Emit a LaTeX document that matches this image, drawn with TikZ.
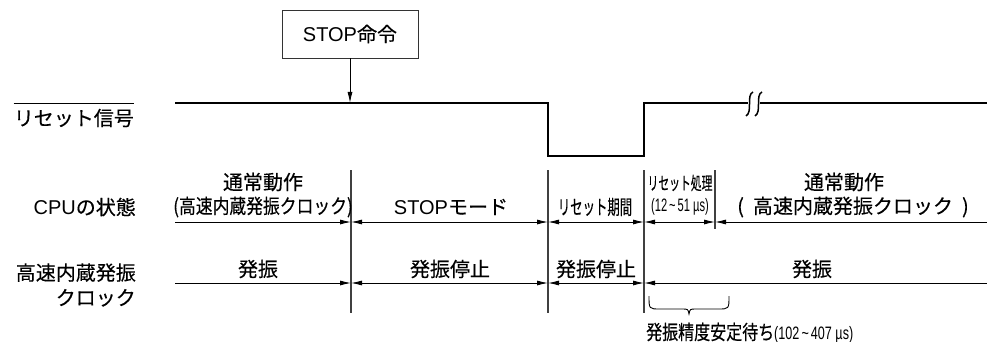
\documentclass[tikz,border=0pt]{standalone}
\usepackage{fontspec}
\usepackage{graphicx}
\usepackage{tikz}
\usetikzlibrary{arrows.meta,positioning,calc}
\newfontfamily\jpfont[FakeBold=0.3]{Noto Sans CJK JP}
\newfontfamily\latfont{Liberation Sans}
\newcommand{\narrowtext}[2]{\scalebox{#1}[1]{#2}}

\begin{document}
\begin{tikzpicture}[
        x=1pt, y=-1pt,
        font=\jpfont\fontsize{20}{25}\selectfont,
        >={Latex[length=11pt,width=5pt]},
        txt/.style={inner sep=0pt, align=center},
        lbl/.style={inner sep=0pt, anchor=east, align=right},
        cmdbox/.style={draw=black!80, line width=0.9pt, minimum width=136pt, minimum height=48pt},
        signal/.style={line width=2.6pt},
        boundline/.style={draw=black!75, line width=1.2pt},
        dimarrow/.style={line width=0.9pt},
        cmdarrow/.style={->, line width=0.9pt}
    ]
    \useasboundingbox (0,0) rectangle (987,342);

    % STOP instruction
    \node[cmdbox] (stop) at (350,34) {{\latfont STOP}命令};
    \coordinate (stophit) at (350,103);
    \draw[cmdarrow] (stop.south) -- (stophit);

    % Row labels
    \node[lbl] (rstlbl) at (134,118) {リセット信号};
    \draw[line width=0.9pt] ($(rstlbl.north west)+(0,-5)$) -- ($(rstlbl.north east)+(0,-5)$);
    \node[lbl] (cpulbl) at (136,207) {{\latfont CPU}の状態};
    \node[lbl] (clklbl) at (136,285) {高速内蔵発振\\クロック};

    % Reset signal
    \draw[signal] (175,103) -- (548,103) -- (548,156) -- (644,156) -- (644,103) -- (748,103);
    \draw[signal] (760,103) -- (987,103);
    \draw[line width=1.5pt] (753,92) .. controls (746,95) and (753,112) .. (746,116);
    \draw[line width=1.5pt] (762,92) .. controls (755,95) and (762,112) .. (755,116);

    % Boundaries
    \coordinate (atop) at (351,170); \coordinate (abot) at (351,313);
    \coordinate (btop) at (548,170); \coordinate (bbot) at (548,313);
    \coordinate (ctop) at (644,170); \coordinate (cbot) at (644,313);
    \coordinate (dtop) at (715,170); \coordinate (dbot) at (715,229);
    \draw[boundline] (atop) -- (abot);
    \draw[boundline] (btop) -- (bbot);
    \draw[boundline] (ctop) -- (cbot);
    \draw[boundline] (dtop) -- (dbot);

    % CPU state row
    \coordinate (cpu0) at (175,222);
    \coordinate (cpua) at (351,222);
    \coordinate (cpub) at (548,222);
    \coordinate (cpuc) at (644,222);
    \coordinate (cpud) at (715,222);
    \coordinate (cpue) at (987,222);
    \draw[dimarrow, ->] (cpu0) -- (cpua);
    \draw[dimarrow, <->] (cpua) -- (cpub);
    \draw[dimarrow, <->] (cpub) -- (cpuc);
    \draw[dimarrow, <->] (cpuc) -- (cpud);
    \draw[dimarrow, <-] (cpud) -- (cpue);

    \node[txt] (run1) at (263,182) {通常動作};
    \node[txt] (run1clk) at (263,207) {\narrowtext{0.84}{(高速内蔵発振クロック)}};
    \node[txt] (stopmode) at (451,207) {{\latfont STOP}モード};
    \node[txt] (rstper) at (595,207) {\narrowtext{0.62}{リセット期間}};
    \node[txt] (rstproc) at (680,183) {\narrowtext{0.6}{\fontsize{18}{22}\selectfont リセット処理}};
    \node[txt] (rsttime) at (680,207) {\narrowtext{0.62}{\latfont\fontsize{18}{22}\selectfont (12\,\textasciitilde\,51 µs)}};
    \node[txt] (run2) at (844,182) {通常動作};
    \node[txt] (run2clk) at (853,207) {(\hspace{9pt}高速内蔵発振クロック\hspace{9pt})};

    % Clock row
    \coordinate (clk0) at (175,283);
    \coordinate (clka) at (351,283);
    \coordinate (clkb) at (548,283);
    \coordinate (clkc) at (644,283);
    \coordinate (clke) at (987,283);
    \draw[dimarrow, ->] (clk0) -- (clka);
    \draw[dimarrow, <->] (clka) -- (clkb);
    \draw[dimarrow, <->] (clkb) -- (clkc);
    \draw[dimarrow, <-] (clkc) -- (clke);

    \node[txt] (osc1) at (258,269) {発振};
    \node[txt] (halt1) at (450,269) {発振停止};
    \node[txt] (halt2) at (596,269) {発振停止};
    \node[txt] (osc2) at (812,269) {発振};

    % Stabilisation wait
    \draw[line width=0.9pt] (649,296) .. controls (649,309) .. (660,309) -- (682,309)
        .. controls (688,309) .. (689,314) .. controls (690,309) .. (696,309) -- (718,309)
        .. controls (729,309) .. (729,296);
    \node[txt, anchor=west] (wait) at (646,333) {\narrowtext{0.8}{発振精度安定待ち}\narrowtext{0.7}{\latfont\fontsize{18}{20}\selectfont(102\,\textasciitilde\,407 µs)}};

\end{tikzpicture}
\end{document}
